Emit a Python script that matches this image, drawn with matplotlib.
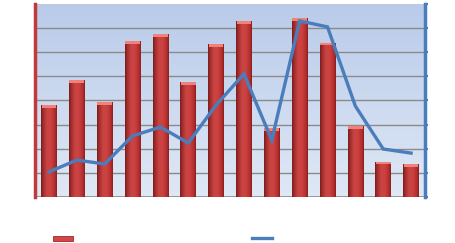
import numpy as np
import matplotlib
matplotlib.use("Agg")
import matplotlib.pyplot as plt
from matplotlib.patches import Patch, Rectangle
from matplotlib.lines import Line2D
from matplotlib.colors import LinearSegmentedColormap

# ---- data ----
categories = list(range(1, 15))
bar_values = [3.80, 4.85, 3.93, 6.48, 6.75, 4.75, 6.35, 7.30, 2.85, 7.40, 6.40, 2.95, 1.47, 1.36]
line_values = [1.04, 1.53, 1.37, 2.53, 2.90, 2.24, 3.81, 5.10, 2.36, 7.30, 7.05, 3.77, 1.99, 1.82]

W, H = 456, 243
fig = plt.figure(figsize=(W / 100, H / 100), dpi=100)
fig.patch.set_facecolor("white")

ax = fig.add_axes([35 / W, 46 / H, 390 / W, 193 / H])
x = np.arange(len(categories))
ax.set_xlim(-0.5, len(categories) - 0.5)
ax.set_ylim(0, 8)

# background gradient
bg = LinearSegmentedColormap.from_list("bg", ["#dfe8f5", "#b9cbea"])
grad = np.linspace(0, 1, 256).reshape(-1, 1)
ax.imshow(grad, cmap=bg, aspect="auto", origin="lower",
          extent=(-0.5, len(categories) - 0.5, 0, 8), zorder=0)

# gridlines
for g in range(1, 8):
    ax.axhline(g, color="#8a8a8a", lw=1.0, zorder=1)
ax.axhline(8, color="#c8c8c8", lw=1.2, zorder=1)
ax.axhline(0, color="#8a8a8a", lw=1.2, zorder=1)

# bars
bw = 0.56
bars = ax.bar(x, bar_values, width=bw, color="#c83a3a", zorder=2, linewidth=0)
bar_cmap = LinearSegmentedColormap.from_list(
    "barh", [(0.0, "#9a2222"), (0.12, "#c23535"), (0.38, "#e64e4e"),
             (0.62, "#de4646"), (0.88, "#b62e2e"), (1.0, "#8a1e1e")])
hprof = np.linspace(0, 1, 64)
for rect, v in zip(bars, bar_values):
    xl = rect.get_x()
    rows = 64
    img = bar_cmap(np.tile(hprof, (rows, 1)))
    vshade = np.linspace(0.8, 1.0, rows).reshape(-1, 1)
    img[..., :3] = img[..., :3] * vshade
    im = ax.imshow(img, origin="lower", aspect="auto",
                   extent=(xl, xl + bw, 0, v), zorder=2.1, interpolation="bilinear")
    im.set_clip_path(rect)
    cap = Rectangle((xl + bw * 0.03, v - 0.12), bw * 0.94, 0.12,
                    facecolor="#f0827a", edgecolor="none", zorder=2.2)
    ax.add_patch(cap)

ax.set_xticks([])
ax.set_yticks([])
for s in ["top", "bottom"]:
    ax.spines[s].set_visible(False)
ax.spines["right"].set_visible(False)
ax.spines["left"].set_color("#c0393b")
ax.spines["left"].set_linewidth(2.5)

# secondary axis for line
ax2 = ax.twinx()
ax2.set_ylim(0, 8)
ax2.plot(x, line_values, color="#4a7dbb", lw=2.4, zorder=3, solid_joinstyle="miter")
ax2.set_yticks(range(0, 9))
ax2.set_yticklabels([])
ax2.tick_params(axis="y", direction="out", length=2.5, width=1.5, color="#4a7dbb")
for s in ["top", "bottom", "left"]:
    ax2.spines[s].set_visible(False)
ax2.spines["right"].set_color("#4a7dbb")
ax2.spines["right"].set_linewidth(2.5)

# legend (no visible text)
handles = [Patch(facecolor="#d44545", edgecolor="#9a2a2a", linewidth=0.6),
           Line2D([0], [0], color="#4a7dbb", lw=2.4)]
fig.legend(handles, ["", ""], loc="center left", bbox_to_anchor=(53 / W, 4.5 / H),
           ncol=2, frameon=False, prop={"size": 5}, handlelength=2.9,
           handletextpad=0.0, columnspacing=25.8, borderpad=0, borderaxespad=0)

fig.savefig("out.png", dpi=100, facecolor="white")
